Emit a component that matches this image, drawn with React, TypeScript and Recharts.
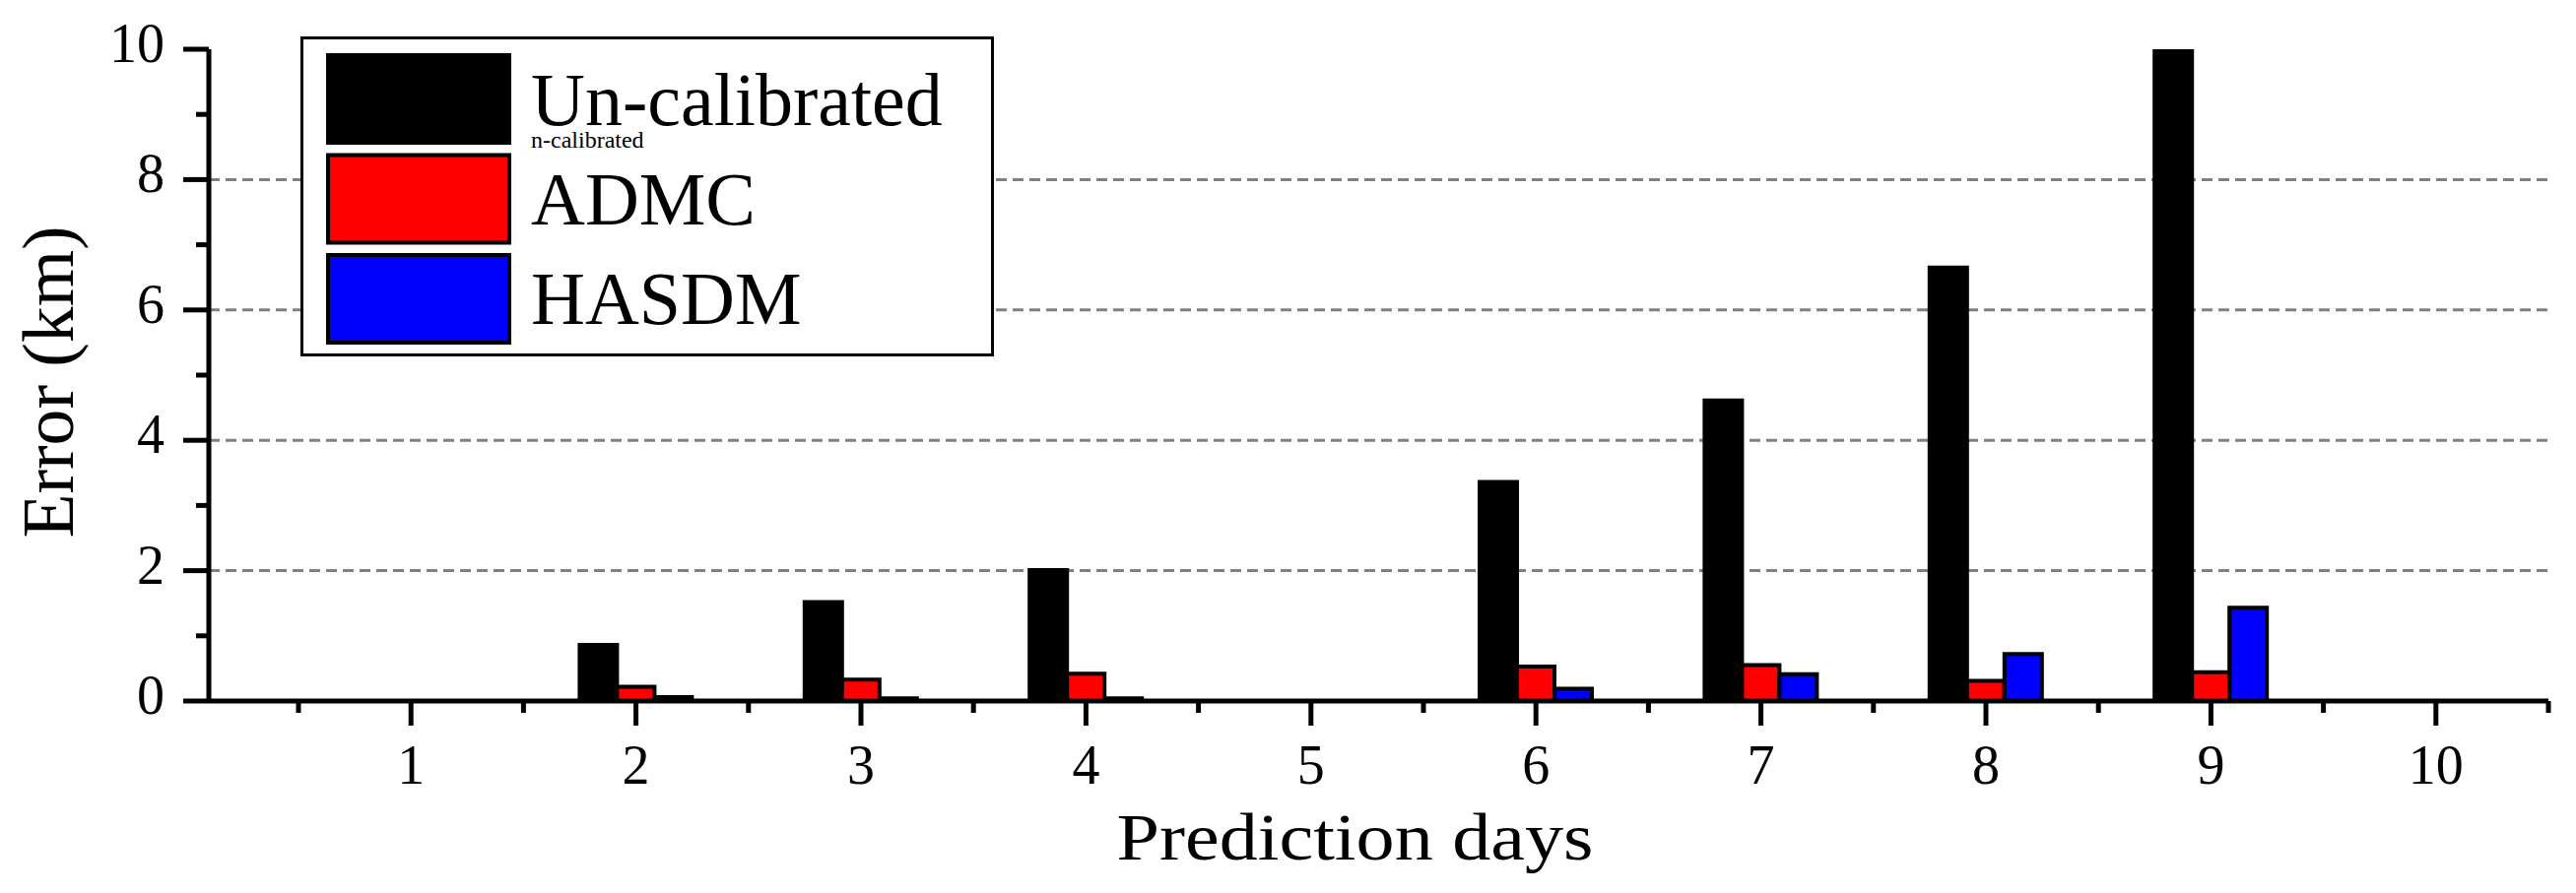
import { BarChart, Bar, XAxis, YAxis, CartesianGrid, Legend } from 'recharts'

const DAYS = [1, 2, 3, 4, 5, 6, 7, 8, 9, 10]
const UNCALIBRATED = [0, 0.86, 1.52, 2.01, 0, 3.36, 4.61, 6.65, 10, 0]
const ADMC = [0, 0.22, 0.33, 0.42, 0, 0.53, 0.55, 0.31, 0.44, 0]
const HASDM = [0, 0.06, 0.04, 0.04, 0, 0.19, 0.41, 0.72, 1.43, 0]

const SERIES_NAMES = ['Un-calibrated', 'ADMC', 'HASDM']
const Y_MAJOR = [0, 2, 4, 6, 8, 10]
const Y_MINOR = [1, 3, 5, 7, 9]
const GRID_VALUES = [2, 4, 6, 8]

const data = DAYS.map((day, i) => ({
       day,
       uncal: UNCALIBRATED[i],
       admc: ADMC[i],
       hasdm: HASDM[i],
}))

// major ticks on the days, minor ticks on the band edges
const X_TICKS = [...DAYS.flatMap(d => [d - 0.5, d]), DAYS[DAYS.length - 1] + 0.5]
const X_DOMAIN = [DAYS[0] - 0.5, DAYS[DAYS.length - 1] + 0.5]
const Y_TICKS = [...Y_MAJOR, ...Y_MINOR].sort((a, b) => a - b)

const SERIF = '"Liberation Serif", "Times New Roman", serif'

function XTick({ x, y, payload }: any) {
       const major = Number.isInteger(payload.value)
       return (
              <g>
                     <line x1={x} x2={x} y1={y} y2={y + (major ? 25 : 12)} stroke="#000" strokeWidth={5} />
                     {major && (
                            <text x={x} y={y + 84} textAnchor="middle" fontSize={56} fontFamily={SERIF} fill="#000">
                                   {payload.value}
                            </text>
                     )}
              </g>
       )
}

function YTick({ x, y, payload }: any) {
       const major = Y_MAJOR.includes(payload.value)
       return (
              <g>
                     <line x1={x} x2={x - (major ? 26 : 13)} y1={y} y2={y} stroke="#000" strokeWidth={5} />
                     {major && (
                            <text x={x - 45} y={y + 13} textAnchor="end" fontSize={56} fontFamily={SERIF} fill="#000">
                                   {payload.value}
                            </text>
                     )}
              </g>
       )
}

function LegendBox({ payload }: any) {
       const items = [...(payload || [])].sort(
              (a: any, b: any) => SERIES_NAMES.indexOf(a.value) - SERIES_NAMES.indexOf(b.value)
       )
       return (
              <svg width={704} height={325} style={{ display: 'block' }}>
                     <rect x={1.5} y={1.5} width={701} height={322} fill="#fff" stroke="#000" strokeWidth={3} />
                     {items.map((entry: any, i: number) => (
                            <g key={entry.value}>
                                   <rect x={28} y={19 + i * 101.5} width={184} height={89} fill={entry.color} stroke="#000" strokeWidth={4} />
                                   <text x={234} y={90 + i * 101} fontSize={76} fontFamily={SERIF} fill="#000">
                                          {entry.value}
                                   </text>
                            </g>
                     ))}
                     <text x={234} y={113} fontSize={24} fontFamily={SERIF} fill="#000">n-calibrated</text>
              </svg>
       )
}

export default function App() {
       return (
              <div style={{ position: 'absolute', left: 0, top: 0, background: '#fff' }}>
                     <BarChart
                            width={2615}
                            height={907}
                            data={data}
                            margin={{ top: 50, right: 28, bottom: 115, left: 12 }}
                            barGap={0}
                     >
                            <CartesianGrid
                                   vertical={false}
                                   horizontalValues={GRID_VALUES}
                                   stroke="#808080"
                                   strokeWidth={3}
                                   strokeDasharray="11 6"
                            />
                            <XAxis xAxisId="cat" dataKey="day" hide padding={{ left: 91, right: 0 }} />
                            <Bar xAxisId="cat" dataKey="uncal" name="Un-calibrated" fill="#000000" stroke="#000" strokeWidth={4} barSize={38} isAnimationActive={false} />
                            <Bar xAxisId="cat" dataKey="admc" name="ADMC" fill="#ff0000" stroke="#000" strokeWidth={4} barSize={38} isAnimationActive={false} />
                            <Bar xAxisId="cat" dataKey="hasdm" name="HASDM" fill="#0000ff" stroke="#000" strokeWidth={4} barSize={38} isAnimationActive={false} />
                            <XAxis
                                   type="number"
                                   dataKey="day"
                                   domain={X_DOMAIN}
                                   allowDataOverflow
                                   ticks={X_TICKS}
                                   interval={0}
                                   padding={{ left: 91, right: 0 }}
                                   height={80}
                                   tickSize={0}
                                   tickMargin={0}
                                   tickLine={false}
                                   axisLine={{ stroke: '#000', strokeWidth: 5 }}
                                   tick={(p: any) => <XTick {...p} />}
                                   label={{
                                          content: ({ viewBox }: any) => (
                                                 <text
                                                        x={viewBox.x + viewBox.width / 2 - 24}
                                                        y={viewBox.y + 161}
                                                        textAnchor="middle"
                                                        fontSize={68}
                                                        fontFamily={SERIF}
                                                        textLength={484}
                                                        lengthAdjust="spacingAndGlyphs"
                                                        fill="#000"
                                                 >
                                                        Prediction days
                                                 </text>
                                          ),
                                   }}
                            />
                            <YAxis
                                   domain={[0, 10]}
                                   allowDataOverflow
                                   ticks={Y_TICKS}
                                   interval={0}
                                   width={200}
                                   tickSize={0}
                                   tickMargin={0}
                                   tickLine={false}
                                   axisLine={{ stroke: '#000', strokeWidth: 5 }}
                                   tick={(p: any) => <YTick {...p} />}
                                   label={{
                                          content: ({ viewBox }: any) => {
                                                 const cx = viewBox.x + 62
                                                 const cy = viewBox.y + viewBox.height / 2 + 7
                                                 return (
                                                        <text
                                                               x={cx}
                                                               y={cy}
                                                               transform={`rotate(-90, ${cx}, ${cy})`}
                                                               textAnchor="middle"
                                                               fontSize={73}
                                                               fontFamily={SERIF}
                                                               textLength={317}
                                                               lengthAdjust="spacingAndGlyphs"
                                                               fill="#000"
                                                        >
                                                               Error (km)
                                                        </text>
                                                 )
                                          },
                                   }}
                            />
                            <Legend
                                   layout="vertical"
                                   align="center"
                                   verticalAlign="middle"
                                   content={(p: any) => <LegendBox {...p} />}
                                   wrapperStyle={{ left: 305, top: 37, width: 704, height: 325 }}
                            />
                     </BarChart>
              </div>
       )
}
